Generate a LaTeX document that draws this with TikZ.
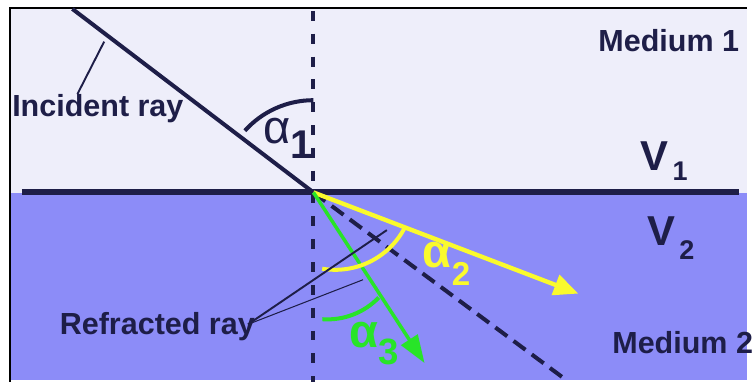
\documentclass[tikz,border=0pt]{standalone}
\usepackage{fontspec}
\usepackage{tikz}
\usetikzlibrary{arrows.meta, positioning}
\newfontfamily\diagfont{Liberation Sans}
\definecolor{navyink}{RGB}{30,30,72}
\definecolor{upperfill}{RGB}{238,238,250}
\definecolor{lowerfill}{RGB}{140,140,248}
\definecolor{rayyellow}{RGB}{250,250,45}
\definecolor{raygreen}{RGB}{40,228,40}

\begin{document}
\begin{tikzpicture}[
  x=0.02cm, y=-0.02cm,
  lbl/.style={anchor=base west, inner sep=0pt, text=navyink,
              font=\diagfont\bfseries\fontsize{17.5}{17.5}\selectfont},
  bigv/.style={anchor=base west, inner sep=0pt, text=navyink,
               font=\diagfont\bfseries\fontsize{24}{24}\selectfont},
  anglbl/.style={anchor=base west, inner sep=0pt,
                 font=\diagfont\bfseries\fontsize{27}{27}\selectfont},
  ray/.style={line width=2.3pt, draw=navyink},
  normal/.style={line width=2.3pt, draw=navyink, dash pattern=on 5.7pt off 7.4pt},
  leader/.style={line width=1.1pt, draw=navyink},
  yray/.style={line width=2.5pt, draw=rayyellow,
               -{Triangle[length=14pt, width=12pt]}},
  gray/.style={line width=2pt, draw=raygreen,
               -{Triangle[length=16pt, width=11pt]}}
]
% background and frame
\fill[white] (0,0) rectangle (753,385);
\fill[upperfill] (10,8) rectangle (753,195);
\fill[lowerfill] (10,195) rectangle (753,383);
\draw[black, line width=1.2pt] (10,385) -- (10,8) -- (753,8);

% points
\coordinate (O) at (316,194);
\coordinate (inctop) at (73,9);
\coordinate (dashend) at (568,381);
\coordinate (yend) at (583,296);
\coordinate (gend) at (428,366);
\coordinate (normtop) at (316,11);
\coordinate (normbot) at (316,385);
\coordinate (ifleft) at (22,194);
\coordinate (ifright) at (745,194);

% interface and normal
\draw[line width=3.4pt, navyink] (ifleft) -- (ifright);
\draw[normal] (normtop) -- (normbot);

% rays
\draw[ray] (inctop) -- (O);
\draw[ray, dash pattern=on 8.5pt off 4.5pt] (O) -- (dashend);
\draw[yray] (O) -- (yend);
\draw[gray] (O) -- (gend);

% angle arcs
\draw[line width=2.3pt, navyink] (O) ++(-138:93) arc[start angle=-138, end angle=-90, radius=93];
\draw[line width=2.3pt, rayyellow] (338,193) ++(99.6:79) arc[start angle=99.6, end angle=28.4, radius=79];
\draw[line width=2.3pt, raygreen] (330,250) ++(94:72) arc[start angle=94, end angle=44, radius=72];

% labels
\node[lbl] (incident) at (12,117) {Incident ray};
\node[lbl] (refracted) at (60,337) {Refracted ray};
\node[lbl] (medium1) at (603,52) {Medium 1};
\node[lbl] (medium2) at (617,356) {Medium 2};
\node[bigv] (v1) at (645,172) {V\raisebox{-5.7pt}{\fontsize{15.5}{15.5}\selectfont\,1}};
\node[bigv] (v2) at (652,248) {V\raisebox{-8pt}{\fontsize{15.5}{15.5}\selectfont\,2}};
\node[anglbl, text=navyink] (alpha1) at (265,145)
  {{\mdseries α}\raisebox{-8.5pt}{\fontsize{23}{23}\selectfont 1}};
\node[anglbl, text=rayyellow] (alpha2) at (426,270)
  {α\raisebox{-10pt}{\fontsize{19}{19}\selectfont 2}};
\node[anglbl, text=raygreen] (alpha3) at (352,350)
  {α\raisebox{-10pt}{\fontsize{21}{21}\selectfont 3}};

% leader lines
\coordinate (incfoot) at (78,95);
\coordinate (inchit) at (105,42);
\draw[leader] (incfoot) -- (inchit);
\coordinate (reffoot) at (250,327);
\coordinate (refhit1) at (390,232);
\coordinate (refhit2) at (366,282);
\draw[leader] (reffoot) -- (refhit1);
\draw[leader, line width=0.6pt] (reffoot) -- (refhit2);
\end{tikzpicture}
\end{document}
